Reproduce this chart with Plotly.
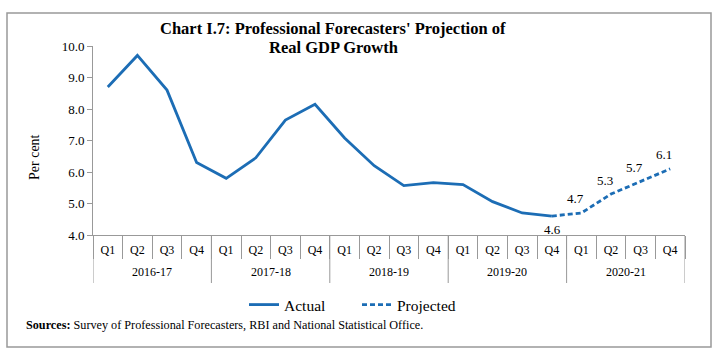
import plotly.graph_objects as go

years = ["2016-17", "2017-18", "2018-19", "2019-20", "2020-21"]
quarters = ["Q1", "Q2", "Q3", "Q4"]
actual_values = [8.7, 9.7, 8.6, 6.3, 5.8, 6.45, 7.65, 8.15, 7.08, 6.2, 5.57, 5.66, 5.6, 5.06, 4.7, 4.6]
projected_values = [4.6, 4.7, 5.3, 5.7, 6.1]
projected_labels = ["4.6", "4.7", "5.3", "5.7", "6.1"]

nq = len(quarters)
n_all = len(years) * nq
cat_labels = [q for _ in years for q in quarters]
idx = list(range(n_all))

n_act = len(actual_values)
act_x = idx[:n_act]
p0 = n_act - 1
proj_x = idx[p0:p0 + len(projected_values)]

BLUE = "#1c6db5"
FONT = "Liberation Serif"
GRAY = "#999"

# plot area in pixels
L, R, T, B = 93, 34, 46, 120
W, H = 719, 355
pw, ph = W - L - R, H - T - B


def px(xp):
    return (xp - L) / pw


def py(yp):
    return (H - B - yp) / ph


fig = go.Figure()
fig.add_trace(go.Scatter(x=act_x, y=actual_values, mode="lines", name="Actual",
                         line=dict(color=BLUE, width=2.8)))
fig.add_trace(go.Scatter(x=proj_x, y=projected_values, mode="lines", name="Projected",
                         line=dict(color=BLUE, width=2.8, dash="5px,3px")))

annotations = []
for i, (xv, v, lab) in enumerate(zip(proj_x, projected_values, projected_labels)):
    if i == 0:
        annotations.append(dict(x=xv, y=v, text=lab, showarrow=False, xref="x", yref="y",
                                yshift=-13, xshift=1,
                                font=dict(family=FONT, size=13, color="#000")))
    else:
        annotations.append(dict(x=xv, y=v, text=lab, showarrow=False, xref="x", yref="y",
                                yshift=14, xshift=-6,
                                font=dict(family=FONT, size=13, color="#000")))

# year (group) labels
for g, yr in enumerate(years):
    annotations.append(dict(x=g * nq + (nq - 1) / 2, y=py(271.5), xref="x", yref="paper",
                            text=yr, showarrow=False, xanchor="center", yanchor="middle",
                            font=dict(family=FONT, size=12, color="#000")))

annotations.append(dict(xref="paper", yref="paper", x=px(333), y=py(28.5),
                        text="<b>Chart I.7: Professional Forecasters' Projection of</b>",
                        showarrow=False, xanchor="center", yanchor="middle", borderpad=0,
                        font=dict(family=FONT, size=16.5, color="#000")))
annotations.append(dict(xref="paper", yref="paper", x=px(333), y=py(47),
                        text="<b>Real GDP Growth</b>",
                        showarrow=False, xanchor="center", yanchor="middle", borderpad=0,
                        font=dict(family=FONT, size=16.5, color="#000")))
annotations.append(dict(xref="paper", yref="paper", x=px(34), y=py(157), text="Per cent",
                        textangle=-90, showarrow=False, xanchor="center", yanchor="middle",
                        font=dict(family=FONT, size=14, color="#000")))
annotations.append(dict(xref="paper", yref="paper", x=px(24), y=py(325),
                        text="<b>Sources:</b> Survey of Professional Forecasters, RBI and National Statistical Office.",
                        showarrow=False, xanchor="left", yanchor="middle",
                        font=dict(family=FONT, size=12.2, color="#000")))

shapes = [dict(type="rect", xref="paper", yref="paper",
               x0=px(7), x1=px(711), y0=py(347), y1=py(13),
               line=dict(color=GRAY, width=1.5), layer="below")]
# year dividers
for g in range(len(years) + 1):
    xb = g * nq - 0.5
    shapes.append(dict(type="line", xref="x", yref="paper", x0=xb, x1=xb,
                       y0=0, y1=py(283), line=dict(color=GRAY, width=1)))

fig.update_layout(
    width=W, height=H,
    margin=dict(l=L, r=R, t=T, b=B, autoexpand=False),
    paper_bgcolor="white", plot_bgcolor="white",
    font=dict(family=FONT, size=13, color="#000"),
    showlegend=True,
    legend=dict(orientation="h", x=px(357), y=py(305), xanchor="center", yanchor="middle",
                font=dict(family=FONT, size=15.5, color="#000"),
                entrywidth=68, entrywidthmode="pixels",
                bgcolor="rgba(0,0,0,0)"),
    annotations=annotations,
    shapes=shapes,
)

fig.update_xaxes(range=[-0.5, n_all - 0.5], tickmode="array", tickvals=idx, ticktext=cat_labels,
                 showline=True, linecolor=GRAY, linewidth=1,
                 ticks="outside", ticklen=4, tickcolor="rgba(0,0,0,0)",
                 minor=dict(ticks="outside", ticklen=23, tickcolor=GRAY, tick0=-0.5, dtick=1,
                            showgrid=False),
                 showgrid=False, zeroline=False,
                 tickfont=dict(family=FONT, size=12, color="#000"))
fig.update_yaxes(range=[4, 10], dtick=1, tick0=4, tickformat=".1f", showline=True,
                 linecolor=GRAY, linewidth=1, ticks="outside", ticklen=5, tickcolor=GRAY,
                 showgrid=False, zeroline=False,
                 tickfont=dict(family=FONT, size=13, color="#000"))

fig.write_html("out.html", config={"displayModeBar": False},
               post_script="document.body.style.margin='0px';document.body.style.overflow='hidden';")
